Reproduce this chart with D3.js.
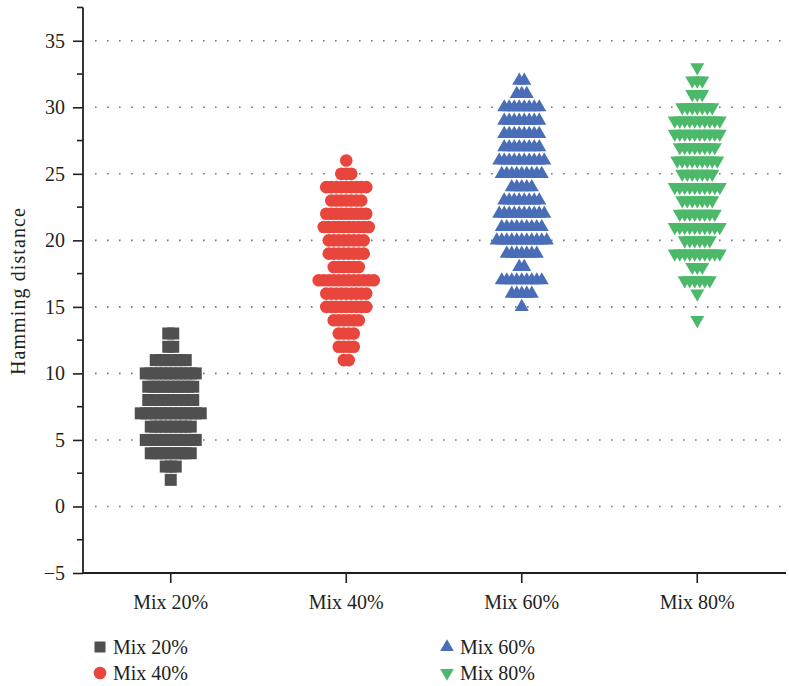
<!DOCTYPE html>
<html>
<head>
<meta charset="utf-8">
<script src="https://cdn.jsdelivr.net/npm/d3@7"></script>
<style>
  body { margin: 0; background: #fff; }
  svg text { font-family: "Liberation Serif", "Times New Roman", serif; fill: #231f20; }
</style>
</head>
<body>
<svg id="chart" width="789" height="686"></svg>
<script>
// categories and data (value -> number of runs at that Hamming distance)
const categories = ['Mix 20%', 'Mix 40%', 'Mix 60%', 'Mix 80%'];

const mix20Values = [13, 12, 11, 10, 9, 8, 7, 6, 5, 4, 3, 2];
const mix20Counts = [2, 2, 7, 11, 10, 10, 13, 9, 11, 9, 3, 1];

const mix40Values = [26, 25, 24, 23, 22, 21, 20, 19, 18, 17, 16, 15, 14, 13, 12, 11];
const mix40Counts = [1, 3, 9, 7, 9, 10, 8, 8, 6, 12, 9, 9, 6, 4, 4, 2];

const mix60Values = [32, 31, 30, 29, 28, 27, 26, 25, 24, 23, 22, 21, 20, 19, 18, 17, 16, 15];
const mix60Counts = [2, 3, 8, 8, 8, 8, 10, 9, 5, 8, 10, 9, 11, 7, 2, 9, 5, 1];

const mix80Values = [33, 32, 31, 30, 29, 28, 27, 26, 25, 24, 23, 22, 21, 20, 19, 18, 17, 16, 14];
const mix80Counts = [1, 3, 3, 7, 10, 10, 8, 9, 7, 10, 7, 8, 10, 6, 10, 3, 6, 1, 1];

const yTicks = [-5, 0, 5, 10, 15, 20, 25, 30, 35];
const colors = ['#4f4f4f', '#e8453c', '#4a6db8', '#4cb96a'];

const groups = [
    { values: mix20Values, counts: mix20Counts },
    { values: mix40Values, counts: mix40Counts },
    { values: mix60Values, counts: mix60Counts },
    { values: mix80Values, counts: mix80Counts }
];

const svg = d3.select('#chart');
const plotLeft = 83, plotRight = 785, plotTop = 7.5, plotBottom = 573;
const spread = 5;

const x = d3.scaleBand().domain(categories).range([plotLeft, plotRight]);
const y = d3.scaleLinear().domain([-5, 37.5]).range([plotBottom, plotTop]);

// dotted grid
svg.append('g')
    .selectAll('line')
    .data(yTicks.filter(d => d >= 0))
    .join('line')
    .attr('x1', 95).attr('x2', 782)
    .attr('y1', d => y(d)).attr('y2', d => y(d))
    .attr('stroke', '#777')
    .attr('stroke-width', 1.6)
    .attr('stroke-dasharray', '1.6 10.4');

// y axis
const yAxis = svg.append('g')
    .attr('transform', `translate(${plotLeft},0)`)
    .call(d3.axisLeft(y).tickValues(yTicks).tickSize(10).tickPadding(8)
        .tickFormat(d => d < 0 ? '\u2212' + Math.abs(d) : d));
yAxis.append('g').selectAll('line')
    .data(d3.range(-2.5, 38, 5))
    .join('line')
    .attr('x1', -6).attr('x2', 0)
    .attr('y1', d => y(d)).attr('y2', d => y(d))
    .attr('stroke', '#231f20').attr('stroke-width', 1.6);
yAxis.select('.domain').attr('d', `M0,${plotTop}V${plotBottom}`);

// x axis
const xAxis = svg.append('g')
    .attr('transform', `translate(0,${plotBottom})`)
    .call(d3.axisBottom(x).tickSize(10).tickPadding(12));
xAxis.select('.domain').attr('d', `M${plotLeft},0H${plotRight + 1}`);

svg.selectAll('.tick line').attr('stroke', '#231f20').attr('stroke-width', 1.6);
svg.selectAll('.domain').attr('stroke', '#231f20').attr('stroke-width', 1.8);
svg.selectAll('.tick text').attr('font-size', 20).attr('fill', '#231f20')
    .style('font-family', '"Liberation Serif", serif');

svg.append('text')
    .attr('transform', `translate(25,291) rotate(-90)`)
    .attr('text-anchor', 'middle')
    .attr('font-size', 20)
    .attr('letter-spacing', 1.1)
    .text('Hamming distance');

// markers
const symbols = [
    d3.symbol().type(d3.symbolSquare).size(144),
    d3.symbol().type(d3.symbolCircle).size(125),
    d3.symbol().type(d3.symbolTriangle).size(86),
    d3.symbol().type(d3.symbolTriangle).size(86)
];
const rotation = [0, 0, 0, 180];

groups.forEach((g, gi) => {
    const pts = [];
    g.values.forEach((v, i) => {
        const n = g.counts[i];
        for (let k = 0; k < n; k++) {
            pts.push({ v: v, off: (k - (n - 1) / 2) * spread });
        }
    });
    const cx = x(categories[gi]) + x.bandwidth() / 2;
    svg.append('g')
        .selectAll('path')
        .data(pts)
        .join('path')
        .attr('d', symbols[gi])
        .attr('transform', d => `translate(${cx + d.off},${y(d.v)}) rotate(${rotation[gi]})`)
        .attr('fill', colors[gi]);
});

// legend
const legendPos = [[100, 647], [100, 673], [447, 647], [447, 673]];
const legendSymbols = [
    d3.symbol().type(d3.symbolSquare).size(121),
    d3.symbol().type(d3.symbolCircle).size(125),
    d3.symbol().type(d3.symbolTriangle).size(80),
    d3.symbol().type(d3.symbolTriangle).size(80)
];
const legend = svg.append('g')
    .selectAll('g')
    .data(categories)
    .join('g')
    .attr('transform', (d, i) => `translate(${legendPos[i][0]},${legendPos[i][1]})`);
legend.append('path')
    .attr('d', (d, i) => legendSymbols[i]())
    .attr('transform', (d, i) => `rotate(${rotation[i]})`)
    .attr('fill', (d, i) => colors[i]);
legend.append('text')
    .attr('x', 13)
    .attr('y', 6.5)
    .attr('font-size', 20)
    .text(d => d);
</script>
</body>
</html>
